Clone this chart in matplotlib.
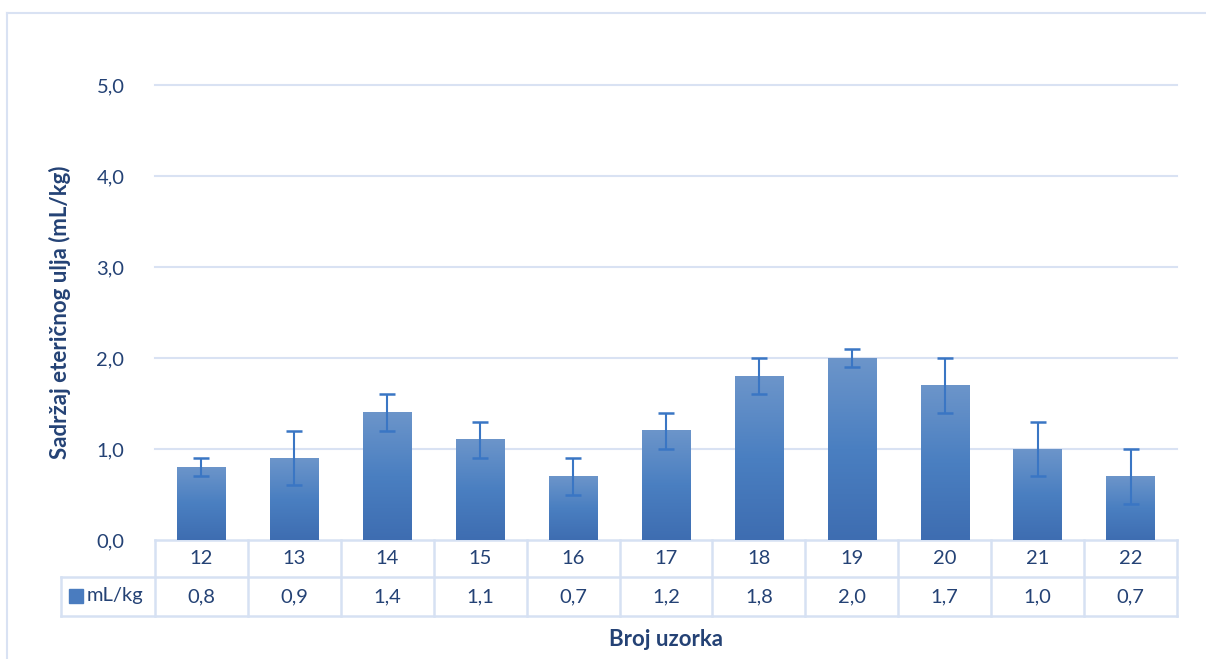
import numpy as np
import matplotlib
matplotlib.use("Agg")
import matplotlib.pyplot as plt
from matplotlib.colors import LinearSegmentedColormap
from matplotlib.lines import Line2D

# data
samples = ["12", "13", "14", "15", "16", "17", "18", "19", "20", "21", "22"]
values = [0.8, 0.9, 1.4, 1.1, 0.7, 1.2, 1.8, 2.0, 1.7, 1.0, 0.7]
errors = [0.1, 0.3, 0.2, 0.2, 0.2, 0.2, 0.2, 0.1, 0.3, 0.3, 0.3]
series_name = "mL/kg"
yticks = [0.0, 1.0, 2.0, 3.0, 4.0, 5.0]

plt.rcParams['font.family'] = ['Lato', 'DejaVu Sans']
txt = "#244275"
grid_c = "#d9e2f3"
err_c = "#3a76c4"
fs = 14.5

W, H = 1206, 659
fig = plt.figure(figsize=(W / 100, H / 100), dpi=100)

# plot area in pixels
L, R, T, B = 155, 1177, 85, 540
ax = fig.add_axes([L / W, 1 - B / H, (R - L) / W, (B - T) / H])

x = np.arange(len(samples))
ax.set_xlim(-0.5, len(samples) - 0.5)
ax.set_ylim(0, 5)

for yv in yticks[1:]:
    ax.axhline(yv, color=grid_c, lw=1.5, zorder=0, clip_on=False)

cmap = LinearSegmentedColormap.from_list("bar", ["#3e6db1", "#4a7fc1", "#6c95ca"])
grad = np.linspace(0, 1, 256).reshape(-1, 1)
bars = ax.bar(x, values, width=0.52, color="none", zorder=2)
for b in bars:
    ax.imshow(grad, extent=[b.get_x(), b.get_x() + b.get_width(), 0, b.get_height()],
              origin="lower", aspect="auto", cmap=cmap, zorder=2)
ax.set_xlim(-0.5, len(samples) - 0.5)
ax.set_ylim(0, 5)

ax.errorbar(x, values, yerr=errors, fmt="none", ecolor=err_c, elinewidth=1.5,
            capsize=6, capthick=1.8, zorder=3)

for s in ax.spines.values():
    s.set_visible(False)
ax.set_xticks([])
ax.set_yticks(yticks)
ax.set_yticklabels([f"{v:.1f}".replace(".", ",") for v in yticks])
ax.tick_params(axis="y", length=0, pad=22, labelsize=fs, labelcolor=txt)

# data table under the axis
row1 = -(577 - B) / (B - T)
row2 = -(616 - B) / (B - T)
leg_l = -(L - 61) / (R - L)
n = len(samples)
fx = lambda i: i / n
tab_c = "#d6e1f3"
kw = dict(transform=ax.transAxes, color=tab_c, lw=1.8, clip_on=False, zorder=1)
ax.add_line(Line2D([0, 1], [0, 0], **kw))
ax.add_line(Line2D([leg_l, 1], [row1, row1], **kw))
ax.add_line(Line2D([leg_l, 1], [row2, row2], **kw))
ax.add_line(Line2D([leg_l, leg_l], [row1, row2], **kw))
for i in range(n + 1):
    ax.add_line(Line2D([fx(i), fx(i)], [0, row2], **kw))
for i in range(n):
    cx = fx(i + 0.5)
    ax.text(cx, row1 / 2, samples[i], transform=ax.transAxes, ha="center", va="center",
            fontsize=fs, color=txt)
    ax.text(cx, (row1 + row2) / 2, f"{values[i]:.1f}".replace(".", ","),
            transform=ax.transAxes, ha="center", va="center", fontsize=fs, color=txt)

# legend key in the table
fig.add_artist(plt.Rectangle((69 / W, 1 - 603 / H), 14 / W, 14 / H, color="#4a7cbf"))
fig.text(87 / W, 1 - 596 / H, series_name, ha="left", va="center", fontsize=fs, color=txt)

# axis titles
fig.text(60 / W, 1 - 312 / H, "Sadržaj eteričnog ulja (mL/kg)", rotation=90,
         ha="center", va="center", fontsize=16, fontweight="bold", color=txt)
fig.text(666 / W, 1 - 639 / H, "Broj uzorka", ha="center", va="center",
         fontsize=16, fontweight="bold", color=txt)

# chart frame
fig.add_artist(Line2D([7 / W, 7 / W], [1 - 13 / H, 0], color=grid_c, lw=1.5))
fig.add_artist(Line2D([7 / W, 1], [1 - 13 / H, 1 - 13 / H], color=grid_c, lw=1.5))

fig.savefig("out.png", dpi=100)
